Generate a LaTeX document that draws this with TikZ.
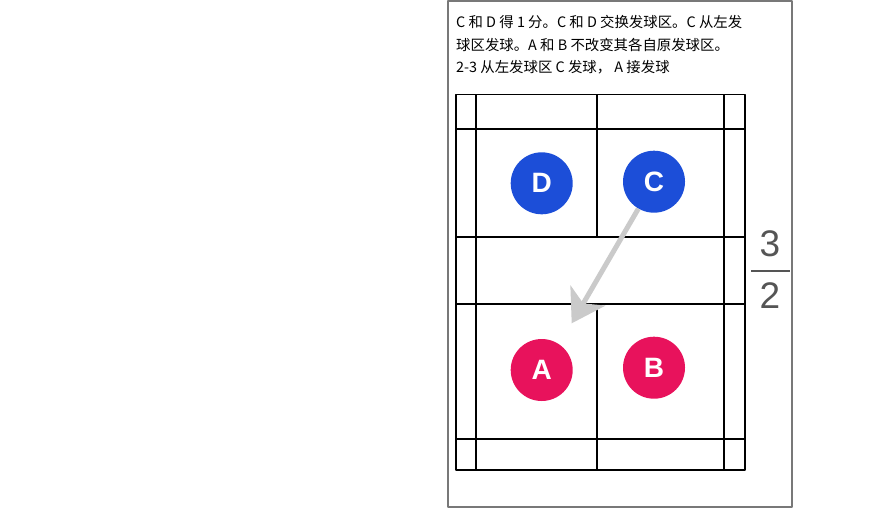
\documentclass[tikz,border=0pt]{standalone}
\usepackage{fontspec}
\setmainfont{Liberation Sans}
\newfontfamily\cjk{Noto Sans CJK SC}
\usetikzlibrary{arrows.meta}
\definecolor{teamblue}{RGB}{28,78,216}
\definecolor{teamred}{RGB}{232,18,92}
\definecolor{shotgray}{RGB}{202,202,202}
\definecolor{fracgray}{RGB}{85,85,85}
\definecolor{framegray}{RGB}{120,120,120}

\begin{document}
\begin{tikzpicture}[x=1pt,y=-1pt,line join=bevel,
  courtline/.style={line width=1.8pt,black},
  player/.style={circle,minimum size=62pt,inner sep=0pt,text=white,
    font=\fontsize{28}{28}\selectfont\bfseries},
  note/.style={anchor=west,inner sep=0pt,font=\cjk\fontsize{14.4}{16}\selectfont},
  shot/.style={line width=5pt,shotgray,-{Stealth[length=32pt,width=40pt,inset=9pt]}},
  frac/.style={text=fracgray,inner sep=0pt,font=\fontsize{37}{37}\selectfont}]
  \useasboundingbox (0,0) rectangle (893,509);
  %%
  \draw [framegray,line width=1.4pt] (448,1) rectangle (792,507);
  % notes
  \node (l1) at (456,22) [note] {C 和 D 得 1 分。C 和 D 交换发球区。C 从左发};
  \node (l2) at (456,45) [note] {球区发球。A 和 B 不改变其各自原发球区。};
  \node (l3) at (456,67) [note] {2-3 从左发球区 C 发球， A 接发球};
  % court
  \draw [courtline] (456,94.5) rectangle (745,470);
  \draw [courtline] (475.7,94.5) -- (475.7,470);
  \draw [courtline] (723.7,94.5) -- (723.7,470);
  \draw [courtline] (456,129.3) -- (745,129.3);
  \draw [courtline] (456,237.3) -- (745,237.3);
  \draw [courtline] (456,304.3) -- (745,304.3);
  \draw [courtline] (456,439) -- (745,439);
  \draw [courtline] (596.7,94.5) -- (596.7,237.3);
  \draw [courtline] (596.7,304.3) -- (596.7,470);
  % players
  \node (d) at (541.7,183.3) [player,fill=teamblue] {D};
  \node (c) at (654,181.7) [player,fill=teamblue] {C};
  \node (a) at (541.7,370) [player,fill=teamred] {A};
  \node (b) at (654,367.7) [player,fill=teamred] {B};
  % serve
  \coordinate (recv) at (571.7,323.3);
  \draw [shot] (c) -- (recv);
  % ratio
  \node (num) at (770,243.5) [frac] {3};
  \node (den) at (770,296) [frac] {2};
  \draw [fracgray,line width=1.6pt] (751,271) -- (790,271);
  %
\end{tikzpicture}
\end{document}
